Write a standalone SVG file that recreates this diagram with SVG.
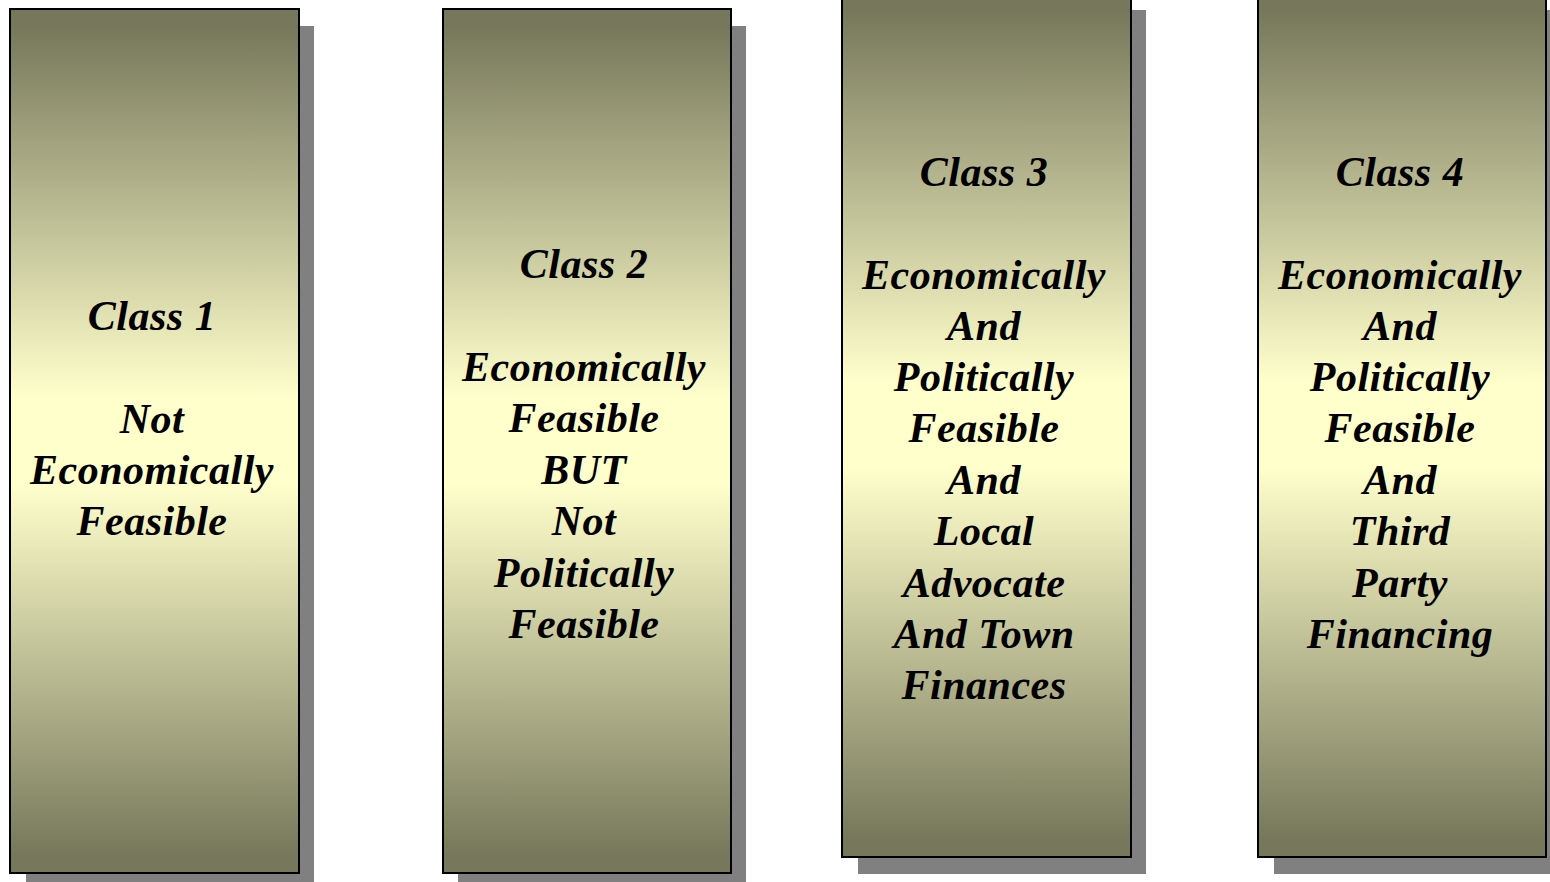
<svg xmlns="http://www.w3.org/2000/svg" width="1550" height="882" viewBox="0 0 1550 882">
<defs>
<linearGradient id="g" x1="0" y1="0" x2="0" y2="1">
<stop offset="0.02" stop-color="#77785B"/>
<stop offset="0.45" stop-color="#FFFFCC"/>
<stop offset="0.55" stop-color="#FFFFCC"/>
<stop offset="0.98" stop-color="#77785B"/>
</linearGradient>
</defs>
<style>
.sh{fill:#808080}
.bx{fill:url(#g);stroke:#000;stroke-width:2}
text{font-family:"Liberation Serif","Times New Roman",serif;font-weight:bold;font-style:italic;font-size:42px;fill:#000;text-anchor:middle;letter-spacing:0.5px}
</style>
<g id="class1">
<rect class="sh" x="26" y="26" width="288" height="864"/>
<rect class="bx" x="10" y="9" width="289" height="864"/>
<text><tspan x="152" y="330">Class 1</tspan><tspan x="152" y="433">Not</tspan><tspan x="152" y="484">Economically</tspan><tspan x="152" y="535">Feasible</tspan></text>
</g>
<g id="class2">
<rect class="sh" x="458" y="26" width="288" height="864"/>
<rect class="bx" x="443" y="9" width="288" height="864"/>
<text><tspan x="584" y="278">Class 2</tspan><tspan x="584" y="381">Economically</tspan><tspan x="584" y="432">Feasible</tspan><tspan x="584" y="484">BUT</tspan><tspan x="584" y="535">Not</tspan><tspan x="584" y="587">Politically</tspan><tspan x="584" y="638">Feasible</tspan></text>
</g>
<g id="class3">
<rect class="sh" x="858" y="10" width="288" height="864"/>
<rect class="bx" x="842" y="-7" width="289" height="864"/>
<text><tspan x="984" y="186">Class 3</tspan><tspan x="984" y="289">Economically</tspan><tspan x="984" y="340">And</tspan><tspan x="984" y="391">Politically</tspan><tspan x="984" y="442">Feasible</tspan><tspan x="984" y="494">And</tspan><tspan x="984" y="545">Local</tspan><tspan x="984" y="597">Advocate</tspan><tspan x="984" y="648">And Town</tspan><tspan x="984" y="699">Finances</tspan></text>
</g>
<g id="class4">
<rect class="sh" x="1274" y="10" width="288" height="864"/>
<rect class="bx" x="1258" y="-7" width="288" height="864"/>
<text><tspan x="1400" y="186">Class 4</tspan><tspan x="1400" y="289">Economically</tspan><tspan x="1400" y="340">And</tspan><tspan x="1400" y="391">Politically</tspan><tspan x="1400" y="442">Feasible</tspan><tspan x="1400" y="494">And</tspan><tspan x="1400" y="545">Third</tspan><tspan x="1400" y="597">Party</tspan><tspan x="1400" y="648">Financing</tspan></text>
</g>
<g id="connectors"></g>
</svg>
